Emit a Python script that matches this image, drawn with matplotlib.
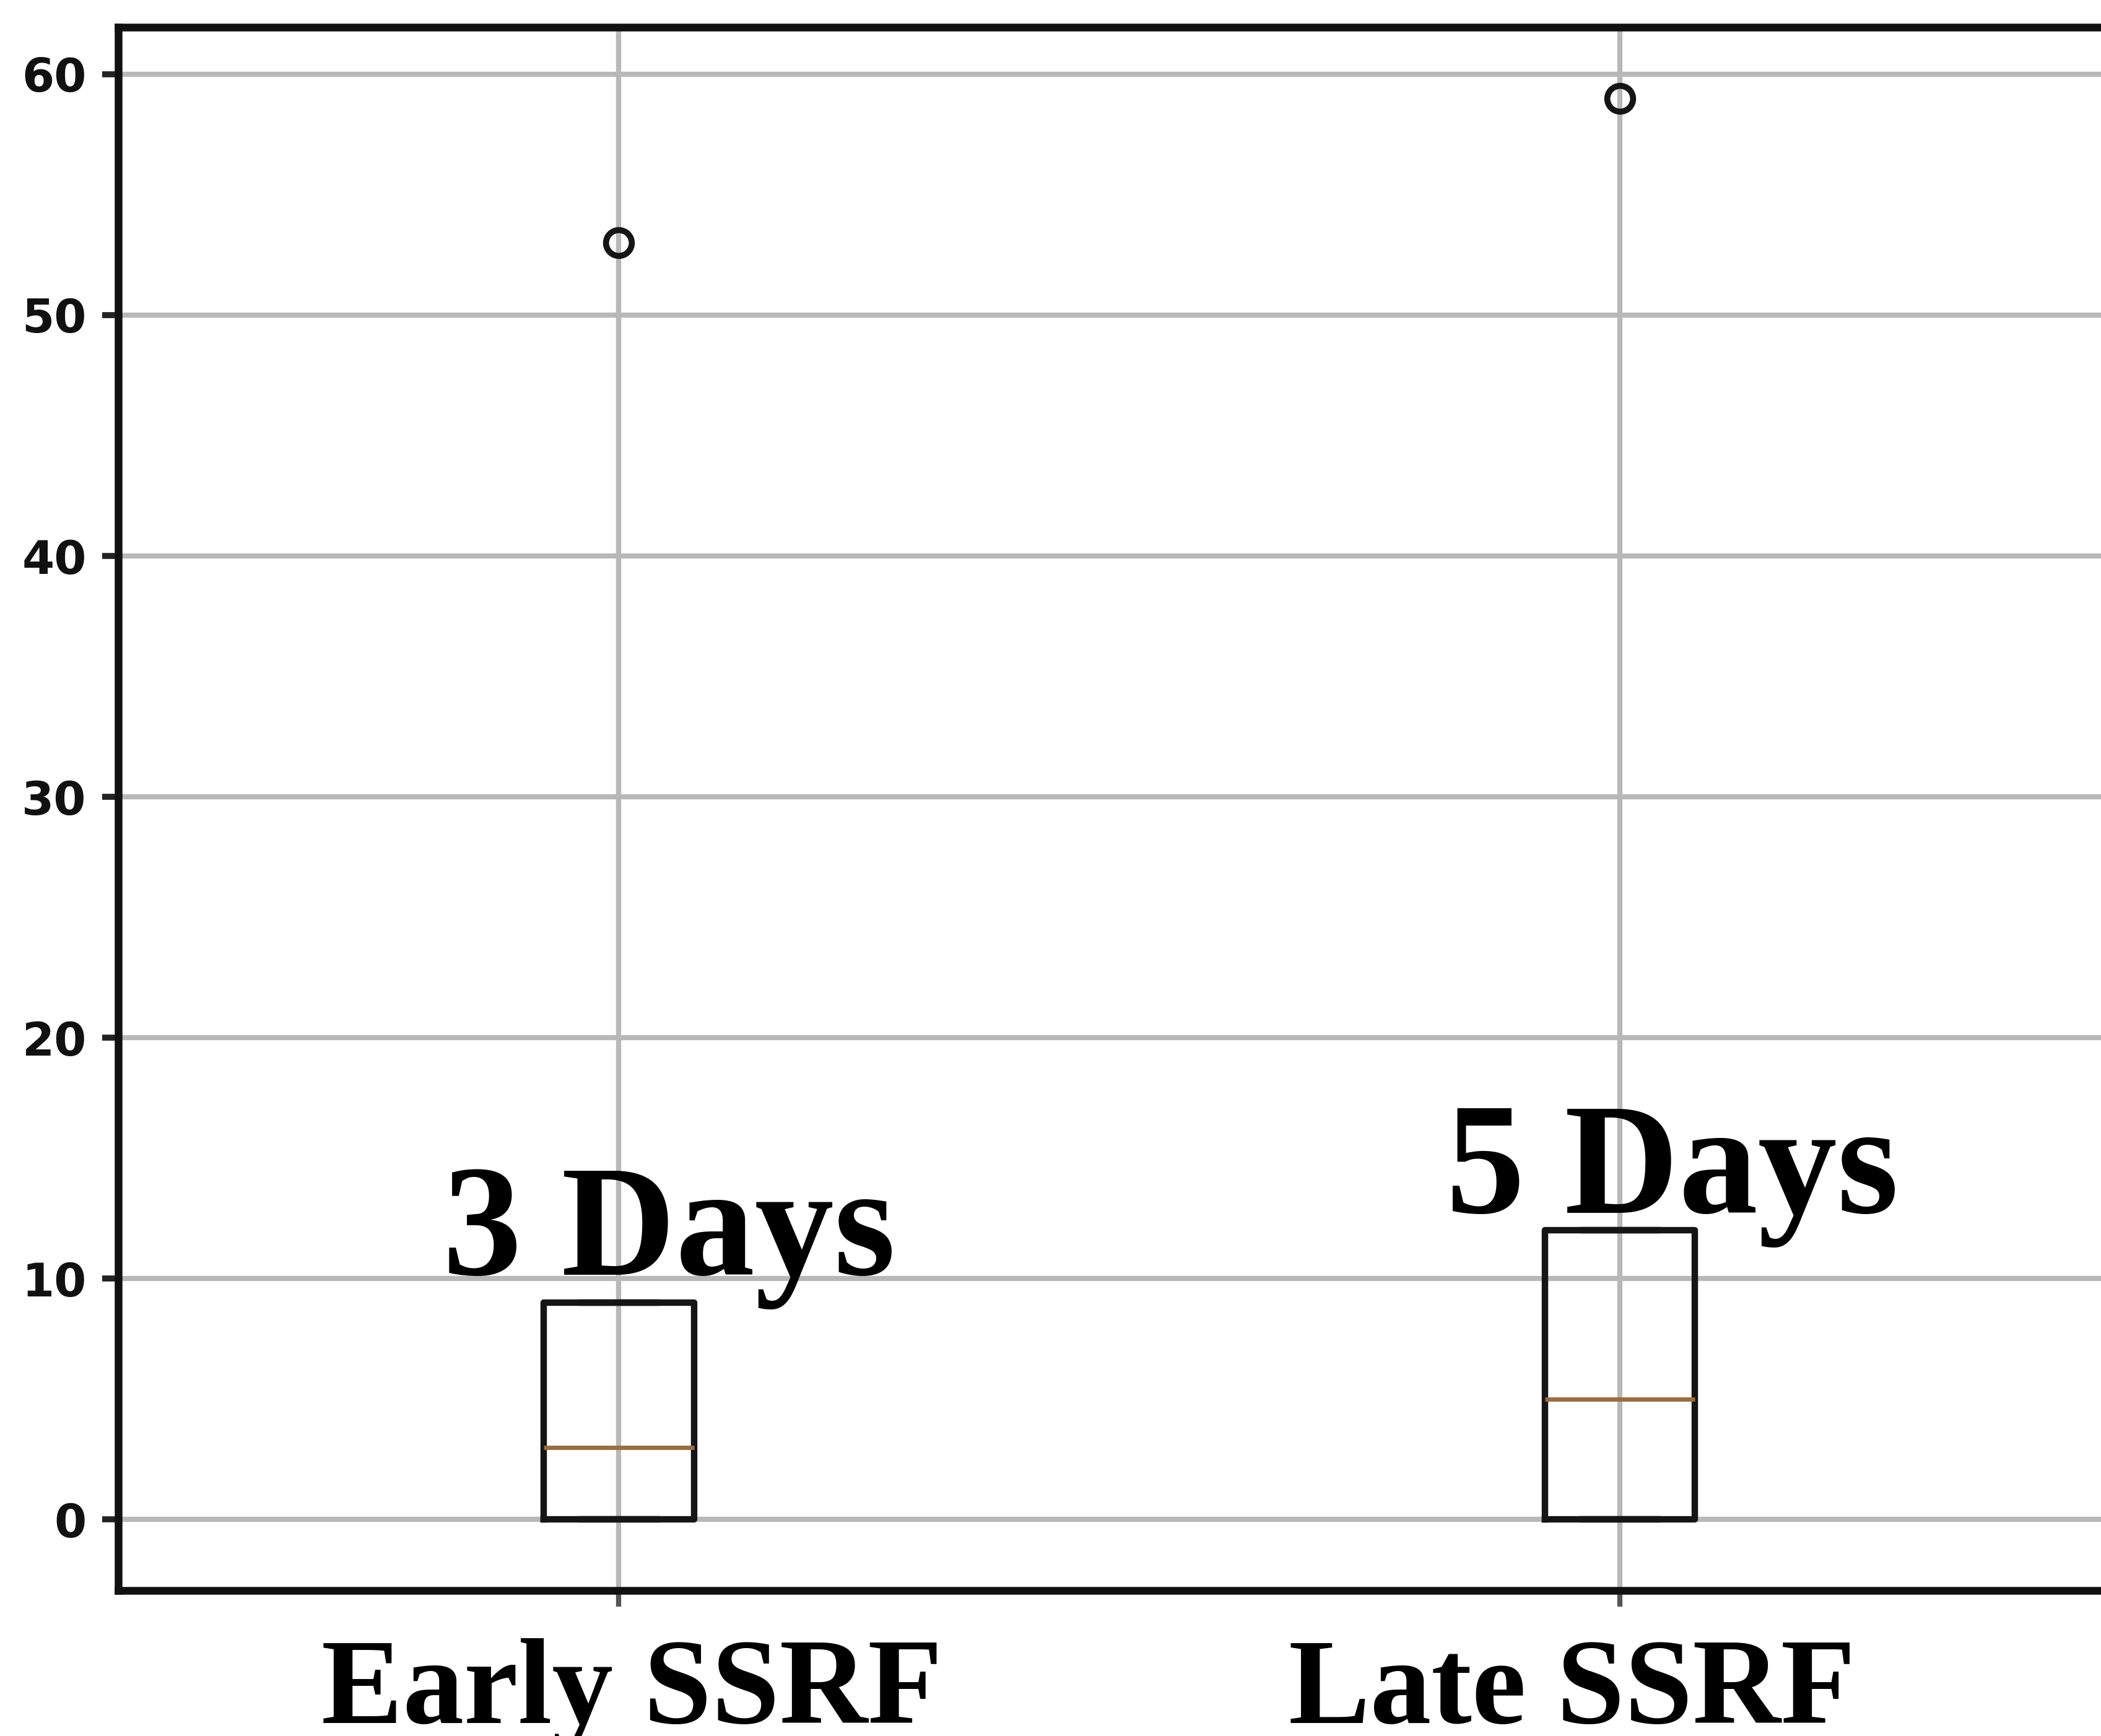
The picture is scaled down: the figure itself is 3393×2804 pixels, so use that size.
import matplotlib
matplotlib.use("Agg")
import os
import matplotlib.pyplot as plt
from matplotlib import font_manager
from matplotlib.transforms import blended_transform_factory

# box summary values
groups = ["Early SSRF", "Late SSRF"]
positions = [1, 2]
q1 = [0, 0]
medians = [3, 5]
q3 = [9, 12]
whis_lo = [0, 0]
whis_hi = [9, 12]
fliers = [[53], [59]]
day_labels = ["3 Days", "5 Days"]
day_label_y = [10.17, 12.72]
yticks = [0, 10, 20, 30, 40, 50, 60]


def times_bold():
    '''find a bold Times-like font file, STIX (ships with matplotlib) otherwise'''
    wanted = ['liberationserif-bold.', 'tinos-bold.', 'timesbd.', 'nimbusroman-bold']
    files = [f.fname for f in font_manager.fontManager.ttflist]
    for w in wanted:
        for p in files:
            if w in os.path.basename(p).lower():
                return font_manager.FontProperties(fname=p)
    return font_manager.FontProperties(family='STIXGeneral', weight='bold')


stats = []
for i in range(len(groups)):
    stats.append(dict(med=medians[i], q1=q1[i], q3=q3[i],
                      whislo=whis_lo[i], whishi=whis_hi[i],
                      fliers=fliers[i], label=groups[i]))

fig = plt.figure(figsize=(33.93, 28.04), dpi=100)
ax = fig.add_axes([0.0563, 0.0838, 0.953, 0.9005])

ax.grid(True, color='#b8b8b8', linewidth=6)
ax.set_axisbelow(True)

line_col = '#151515'
ax.bxp(stats, positions=positions, widths=0.15,
       boxprops=dict(color=line_col, linewidth=7.5),
       whiskerprops=dict(color=line_col, linewidth=7.5),
       capprops=dict(color=line_col, linewidth=7.5),
       medianprops=dict(color='#9a6d3c', linewidth=5),
       flierprops=dict(marker='o', markersize=30, markerfacecolor='none',
                       markeredgecolor=line_col, markeredgewidth=7))

ax.set_xlim(0.5, 2.5)
ax.set_ylim(-2.95, 61.95)
ax.set_yticks(yticks)
ax.set_xticks(positions)
ax.set_xticklabels(['', ''])

for s in ax.spines.values():
    s.set_linewidth(9)
    s.set_color('#111111')

ax.tick_params(axis='y', length=19, width=7, color='#222222', pad=18,
               labelsize=54, labelcolor='#111111')
for lbl in ax.get_yticklabels():
    lbl.set_fontweight('bold')
ax.tick_params(axis='x', length=19, width=6, color='#555555')

fp = times_bold()
big = fp.copy()
big.set_size(184)
small = fp.copy()
small.set_size(142)

day_x = [1.05, 2.052]
for i in range(len(day_labels)):
    ax.text(day_x[i], day_label_y[i], day_labels[i], ha='center', va='baseline',
            fontproperties=big, color='black')

trans = blended_transform_factory(ax.transData, fig.transFigure)
group_x = [1.013, 1.952]
for i in range(len(groups)):
    ax.text(group_x[i], 0.0075, groups[i], transform=trans, ha='center',
            va='baseline', fontproperties=small, color='black', clip_on=False)

fig.savefig('out.png', dpi=100)
